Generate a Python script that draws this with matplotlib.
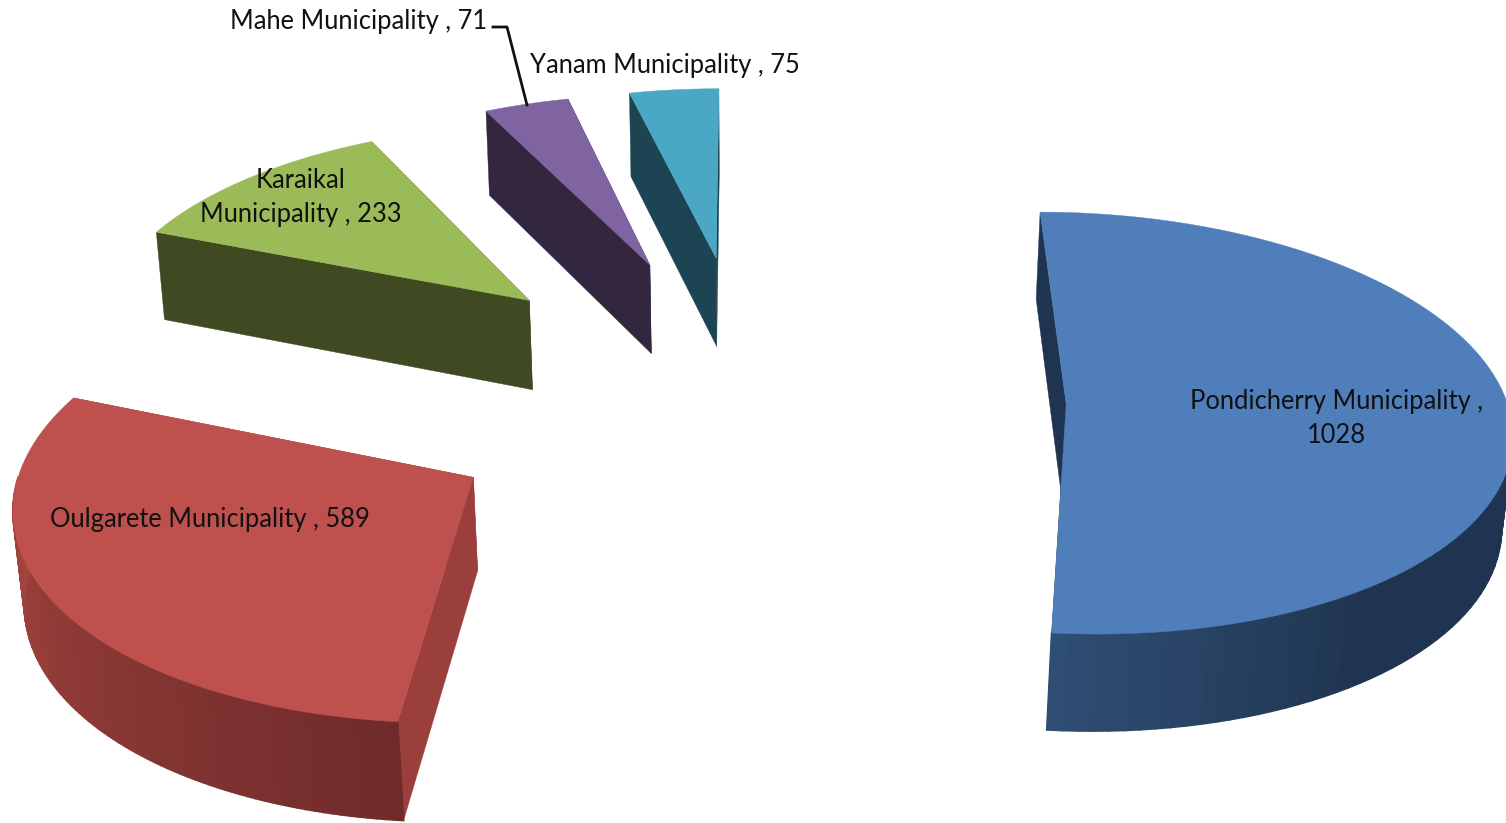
import numpy as np
import matplotlib
matplotlib.use("Agg")
import matplotlib.pyplot as plt
from matplotlib.colors import to_rgb
from matplotlib.patches import Polygon

# Datos del gráfico
categories = ["Pondicherry Municipality", "Oulgarete Municipality", "Karaikal Municipality",
              "Mahe Municipality", "Yanam Municipality"]
values = [1028, 589, 233, 71, 75]

top_colors = ["#4F7EBA", "#BE504D", "#9BBB59", "#8064A2", "#4BA8C4"]
side_colors = ["#1F3450", "#9A3F3C", "#3F4A22", "#33263F", "#1D4452"]

# Proyección en perspectiva del pastel (píxeles de la imagen)
CX, CY = 751, 397
A, B, C = 440, 208, 93
K_DEPTH, K_Z = 0.09, 0.015
EXPLODE = 0.715


def project(x, y, z=0.0):
    w = 1 + K_DEPTH * y + K_Z * z
    return CX + A * x / w, CY + (C * z - B * y) / w


def mix(c1, c2, t):
    c1, c2 = np.array(to_rgb(c1)), np.array(to_rgb(c2))
    return tuple(c1 + (c2 - c1) * t)


def arc_shade(i, theta):
    """Color del lado curvo según el ángulo (grados, horario desde arriba)."""
    if i == 0:
        return mix("#2F4E74", "#1F3450", np.clip((185 - theta) / 40, 0, 1))
    return mix("#6F2B2B", "#A5453F", np.clip((theta - 186) / 85, 0, 1))


def draw_wedge(ax, i, start, end):
    mid = np.radians((start + end) / 2)
    ox, oy = EXPLODE * np.sin(mid), EXPLODE * np.cos(mid)
    thetas = np.linspace(start, end, 100)
    xs = ox + np.sin(np.radians(thetas))
    ys = oy + np.cos(np.radians(thetas))

    # Caras radiales: primero la final y luego la inicial
    for j in (-1, 0):
        quad = [project(ox, oy), project(xs[j], ys[j]), project(xs[j], ys[j], 1), project(ox, oy, 1)]
        color = side_colors[i]
        ax.add_patch(Polygon(quad, closed=True, fc=color, ec=color, lw=0.3))

    # Lado curvo, solo la parte que mira a la cámara
    for t0, t1, x0, x1, y0, y1 in zip(thetas[:-1], thetas[1:], xs[:-1], xs[1:], ys[:-1], ys[1:]):
        if np.cos(np.radians((t0 + t1) / 2)) > 0:
            continue
        color = arc_shade(i, (t0 + t1) / 2)
        quad = [project(x0, y0), project(x1, y1), project(x1, y1, 1), project(x0, y0, 1)]
        ax.add_patch(Polygon(quad, closed=True, fc=color, ec=color, lw=1.2))

    # Cara superior
    top = [project(ox, oy)] + [project(x, y) for x, y in zip(xs, ys)]
    ax.add_patch(Polygon(top, closed=True, fc=top_colors[i], ec=top_colors[i], lw=0.3))


plt.rcParams["font.family"] = ["Lato", "DejaVu Sans"]
fig = plt.figure(figsize=(15.06, 8.23), dpi=100)
ax = fig.add_axes([0, 0, 1, 1])
ax.set_xlim(0, 1506)
ax.set_ylim(823, 0)
ax.axis("off")

angles = np.cumsum([0] + values) / sum(values) * 360
for i in range(len(values)):
    draw_wedge(ax, i, angles[i], angles[i + 1])

# Etiquetas
label_style = dict(fontsize=18.4, color="#111111", ha="center", va="center", linespacing=1.42)
ax.text(1337, 418.5, f"{categories[0]} ,\n{values[0]}", **label_style)
ax.text(210, 520, f"{categories[1]} , {values[1]}", **label_style)
ax.text(301, 197.5, f"Karaikal\nMunicipality , {values[2]}", **label_style)
ax.text(359, 21, f"{categories[3]} , {values[3]}", **label_style)
ax.text(664.5, 65, f"{categories[4]} , {values[4]}", **label_style)

# Línea guía de Mahe
ax.plot([493, 507, 527], [27, 27, 105], color="#111111", lw=2)

fig.savefig("out.png", dpi=100, facecolor="white")
